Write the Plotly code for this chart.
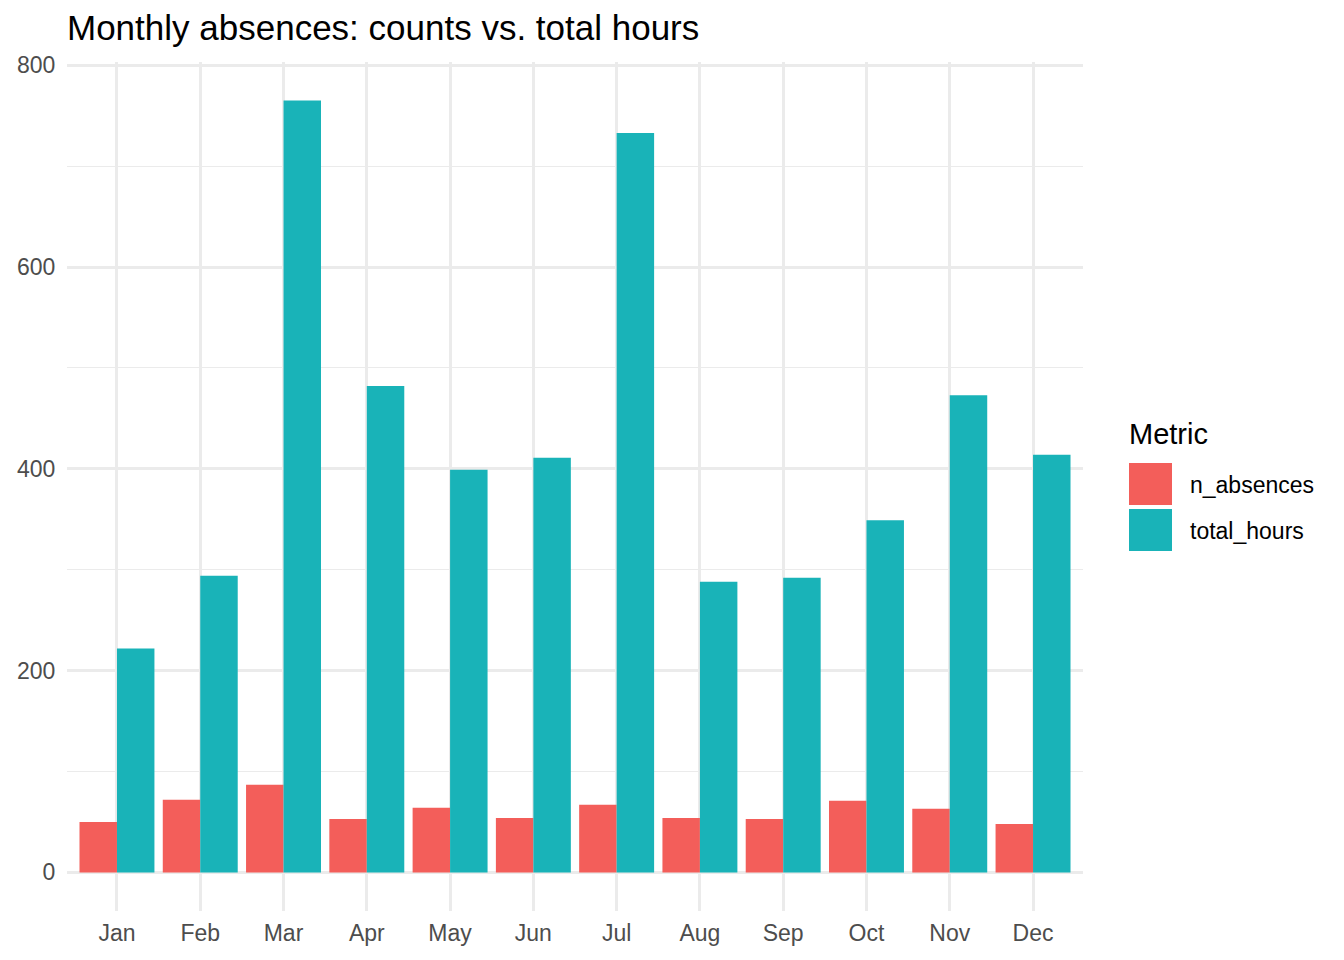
import plotly.graph_objects as go

months = ["Jan", "Feb", "Mar", "Apr", "May", "Jun", "Jul", "Aug", "Sep", "Oct", "Nov", "Dec"]
n_absences = [50, 72, 87, 53, 64, 54, 67, 54, 53, 71, 63, 48]
total_hours = [222, 294, 765, 482, 399, 411, 733, 288, 292, 349, 473, 414]
series_names = ["n_absences", "total_hours"]
series_colors = ["#F35E5A", "#19B3B8"]
y_ticks = [0, 200, 400, 600, 800]
y_minor = [100, 300, 500, 700]

W, H = 1344, 960
ML, MR, MT, MB = 67, 261, 62, 49
PW, PH = W - ML - MR, H - MT - MB

fig = go.Figure()
for name, vals, col in zip(series_names, [n_absences, total_hours], series_colors):
    fig.add_trace(go.Bar(x=months, y=vals, name=name, marker=dict(color=col, line=dict(width=0)),
                         showlegend=False))

ymax = max(max(n_absences), max(total_hours))
pad = 0.05 * ymax

fig.update_layout(
    width=W, height=H,
    margin=dict(l=ML, r=MR, t=MT, b=MB, autoexpand=False),
    paper_bgcolor="white", plot_bgcolor="white",
    barmode="group", bargap=0.1, bargroupgap=0,
    font=dict(family="Liberation Sans, Arial, sans-serif", color="#4D4D4D", size=23),
    title=dict(text="Monthly absences: counts vs. total hours", x=ML / W, xanchor="left",
               y=1 - 28 / H, yanchor="middle",
               font=dict(size=35, color="black", family="Liberation Sans, Arial, sans-serif")),
    xaxis=dict(type="category", range=[-0.6, 11.6], showgrid=True, gridcolor="#EBEBEB", gridwidth=2.8,
               zeroline=False, showline=False, ticks="outside", ticklen=1, tickcolor="rgba(0,0,0,0)",
               automargin=False, tickfont=dict(size=23, color="#4D4D4D")),
    yaxis=dict(range=[-pad, ymax + pad], tickvals=y_ticks,
               showgrid=True, gridcolor="#EBEBEB", gridwidth=2.8, zeroline=False, showline=False,
               ticks="outside", ticklen=6, tickcolor="rgba(0,0,0,0)", automargin=False,
               tickfont=dict(size=23, color="#4D4D4D"),
               minor=dict(tickvals=y_minor, showgrid=True, gridcolor="#EBEBEB", gridwidth=1.4)),
)


def px_x(x):
    return (x - ML) / PW


def px_y(y):
    return (H - MB - y) / PH


# Legend (drawn manually to match large ggplot keys)
fig.add_annotation(text="Metric", xref="paper", yref="paper", x=px_x(1127), y=px_y(434),
                   xanchor="left", yanchor="middle", showarrow=False,
                   font=dict(size=29, color="black"))
key_tops = [463, 509]
for name, col, top in zip(series_names, series_colors, key_tops):
    fig.add_shape(type="rect", xref="paper", yref="paper",
                  x0=px_x(1129), x1=px_x(1172), y0=px_y(top + 42), y1=px_y(top),
                  fillcolor=col, line=dict(width=0))
    fig.add_annotation(text=name, xref="paper", yref="paper", x=px_x(1188), y=px_y(top + 22),
                       xanchor="left", yanchor="middle", showarrow=False,
                       font=dict(size=23, color="black"))

fig.write_html("out.html")
